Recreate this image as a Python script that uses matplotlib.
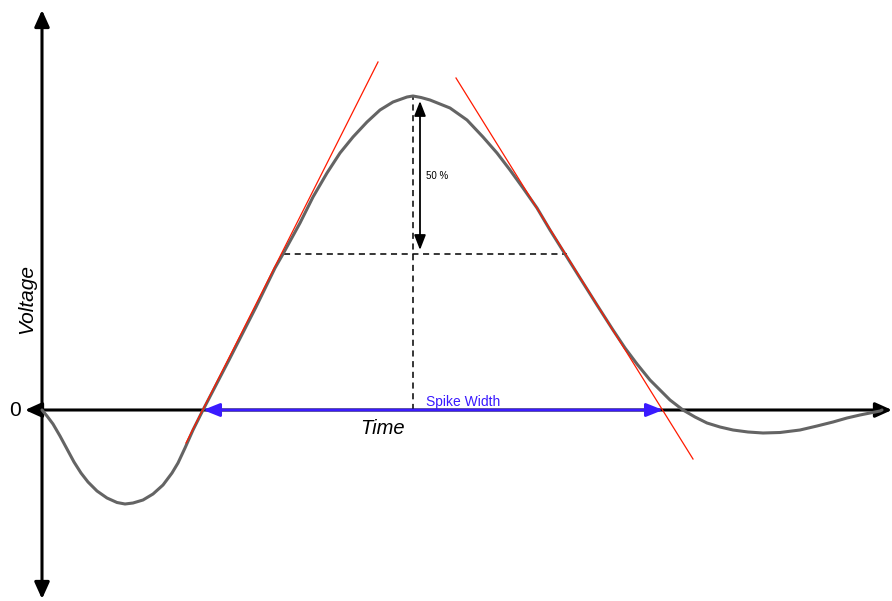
import matplotlib
matplotlib.use("Agg")
import matplotlib.pyplot as plt
from matplotlib.patches import FancyArrowPatch

plt.rcParams['font.family'] = ['Liberation Sans', 'DejaVu Sans']

# spike waveform (time, voltage in arbitrary units)
time = [0, 5, 11, 18, 25, 32, 39, 46, 55, 65, 75, 83, 91, 101, 111, 121, 130,
        136, 143, 151, 161, 187, 214, 233, 241, 258, 271, 285, 298, 311, 325,
        338, 351, 365, 371, 379, 388, 408, 425, 441, 455, 468, 481, 495, 508,
        523, 538, 555, 571, 583, 595, 608, 618, 628, 641, 653, 665, 678, 691,
        706, 721, 738, 758, 775, 791, 805, 818, 828, 838, 840]
voltage = [0, -6, -14, -26, -39, -52, -63, -72, -81, -88, -92.5, -94, -93, -90,
           -84, -75, -63, -53, -38, -20, 0, 50, 103, 142, 156, 187, 213, 237,
           257, 273, 288, 300, 308, 313, 314, 312.5, 310, 302, 290, 273, 257,
           240, 222, 202, 180, 156, 132, 105, 80, 62, 46, 30, 20, 10, 0, -7,
           -13, -17, -20, -22, -23, -22.5, -20, -16, -12, -8, -5, -3, -1, 0]

# tangent lines at the half-height crossings
tangent_left_t = [144, 336]
tangent_left_v = [-33, 348]
tangent_right_t = [414, 651]
tangent_right_v = [332, -49]

peak_t, peak_v = 371, 314
half_v = 156
half_t = [242, 525]
width_t = [161, 621]

fig = plt.figure(figsize=(8.92, 6.01), dpi=100)
ax = fig.add_axes([0, 0, 1, 1])
ax.set_xlim(-42, 850)
ax.set_ylim(-191, 410)
ax.axis('off')


def arrow(p0, p1, color, lw, hl, hw, ms=10):
    a = FancyArrowPatch(p0, p1, arrowstyle='<|-|>,head_length=%s,head_width=%s' % (hl, hw),
                        mutation_scale=ms, color=color, lw=lw,
                        shrinkA=0, shrinkB=0, zorder=3)
    ax.add_patch(a)


# axes
arrow((0, -189), (0, 400), 'black', 2.2, 1.0, 0.45)
arrow((-17, 0), (850, 0), 'black', 2.2, 1.0, 0.45)

# dashed guides
ax.plot(half_t, [half_v, half_v], color='black', lw=1.1, ls=(0, (4, 3)), zorder=2)
ax.plot([peak_t, peak_t], [0, peak_v], color='black', lw=1.1, ls=(0, (4, 3)), zorder=2)

# waveform
ax.plot(time, voltage, color='#646464', lw=2.2, zorder=3,
        solid_capstyle='round', solid_joinstyle='round')

# tangents
ax.plot(tangent_left_t, tangent_left_v, color='#ff1a00', lw=0.9, zorder=4)
ax.plot(tangent_right_t, tangent_right_v, color='#ff1a00', lw=0.9, zorder=4)

# 50 % arrow
arrow((378, 309), (378, 160), 'black', 1.3, 0.9, 0.35)
ax.text(384, 234, '50 %', fontsize=7, va='center', ha='left')

# spike width arrow
arrow((width_t[0], 0), (width_t[1], 0), '#3a1aff', 2.0, 1.0, 0.4)
ax.text(384, 8, 'Spike Width', fontsize=10, color='#3a1aff', va='center', ha='left')

ax.text(341, -19, 'Time', fontsize=14.5, style='italic', ha='center', va='center')
ax.text(-15, 111, 'Voltage', fontsize=15, style='italic', rotation=90,
        ha='center', va='center')
ax.text(-27, -1, '0', fontsize=15, ha='center', va='center')

fig.savefig('out.png', dpi=100)
